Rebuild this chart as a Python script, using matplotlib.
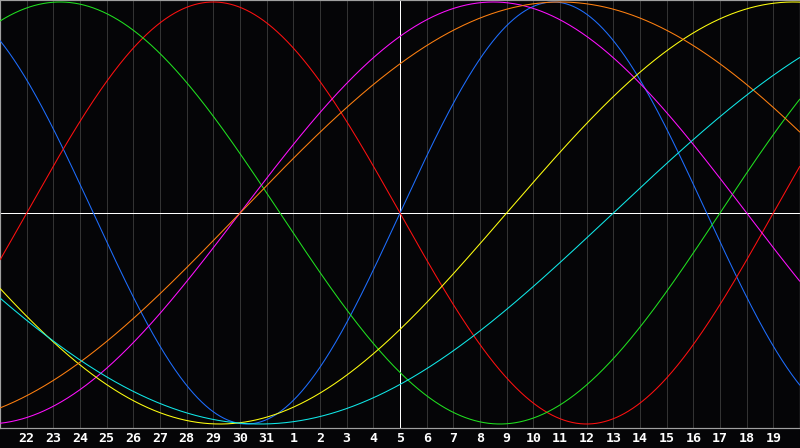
import numpy as np
import matplotlib
matplotlib.use("Agg")
import matplotlib.pyplot as plt
import matplotlib.transforms as mtransforms

# ---- data ----
day_labels = ["22", "23", "24", "25", "26", "27", "28", "29", "30", "31",
              "1", "2", "3", "4", "5", "6", "7", "8", "9", "10",
              "11", "12", "13", "14", "15", "16", "17", "18", "19"]
label_positions = list(range(1, 30))          # column index of each label
today_index = 15                               # column of "5" (centre line)
days_alive_today = 16422                       # days since birth at the centre column
cycle_lengths = [23, 28, 33, 38, 43, 48, 53]   # biorhythm cycle lengths (days)
cycle_colors = ["#1e6eff", "#ff1010", "#20e020", "#ff10ff", "#ffff10", "#ff8010", "#10e8e8"]
n_columns = 30

# ---- figure ----
W, H, DPI = 800, 448, 100
fig = plt.figure(figsize=(W / DPI, H / DPI), dpi=DPI, facecolor="#050507")
plot_bottom_px = 428
ax = fig.add_axes([0, (H - plot_bottom_px) / H, 1, plot_bottom_px / H])
ax.set_facecolor("#050507")

px = 72.0 / DPI  # one pixel in points

x = np.linspace(0, n_columns, 1600)
for period, color in zip(cycle_lengths, cycle_colors):
    d = days_alive_today + (x - today_index)
    ax.plot(x, np.sin(2 * np.pi * d / period), color=color, lw=1.05 * px,
            antialiased=True, zorder=3, solid_capstyle="butt")

for k in label_positions:
    if k == today_index:
        continue
    ax.axvline(k, color="#333333", lw=px, zorder=1, snap=True)
ax.axvline(today_index, color="#ffffff", lw=px, zorder=2, snap=True)
ax.axhline(0, color="#ffffff", lw=px, zorder=2, snap=True)

ax.set_xlim(0, n_columns)
scale = 211.0
ax.set_ylim(-(plot_bottom_px - 213) / scale, 213 / scale)
ax.set_xticks([])
ax.set_yticks([])
for s in ax.spines.values():
    s.set_color("#a0a0a0")
    s.set_linewidth(1.2 * px)

trans = mtransforms.blended_transform_factory(ax.transData, fig.transFigure)
label_y = 1 - 438.5 / H
for k, lab in zip(label_positions, day_labels):
    ax.text(k, label_y, lab, transform=trans, ha="center", va="center",
            color="white", fontsize=9.5, fontweight="bold",
            family="DejaVu Sans Mono", clip_on=False)

fig.savefig("out.png", dpi=DPI, facecolor=fig.get_facecolor())
